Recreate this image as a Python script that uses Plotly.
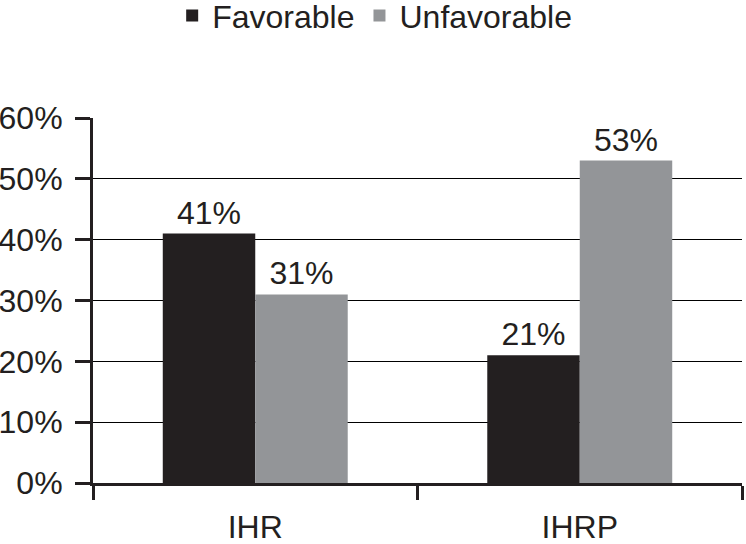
import plotly.graph_objects as go

categories = ["IHR", "IHRP"]
favorable = [0.41, 0.21]
unfavorable = [0.31, 0.53]
series_names = ["Favorable", "Unfavorable"]
y_tick_values = [0, 0.1, 0.2, 0.3, 0.4, 0.5, 0.6]
y_tick_labels = ["0%", "10%", "20%", "30%", "40%", "50%", "60%"]

FONT = "Liberation Sans, Arial, sans-serif"
FS = 32
TXT = "#231F20"
colors = ["#231F20", "#939598"]

fig = go.Figure()
for name, vals, col in zip(series_names, [favorable, unfavorable], colors):
    fig.add_trace(go.Bar(
        x=categories, y=vals, name=name,
        marker=dict(color=col, line=dict(width=0)),
        text=[f"{round(v*100)}%" for v in vals],
        textposition="outside",
        textfont=dict(family=FONT, size=FS, color=TXT),
        cliponaxis=False,
    ))

fig.update_layout(
    width=746, height=544,
    margin=dict(l=93, r=4, t=118, b=61, autoexpand=False),
    paper_bgcolor="white", plot_bgcolor="white",
    barmode="group", bargap=0.43, bargroupgap=0,
    font=dict(family=FONT, size=FS, color=TXT),
    showlegend=True,
    legend=dict(orientation="h", x=0.122, xanchor="left", y=1.28, yanchor="middle",
                yref="paper", font=dict(family=FONT, size=FS, color=TXT),
                bgcolor="rgba(0,0,0,0)", itemsizing="constant"),
)
fig.update_yaxes(
    range=[0, 0.6], tickvals=y_tick_values, ticktext=y_tick_labels,
    showgrid=True, gridcolor="black", gridwidth=1,
    showline=True, linecolor=TXT, linewidth=3,
    ticks="outside", ticklen=15, tickwidth=3, tickcolor=TXT,
    ticklabelstandoff=6, zeroline=False, automargin=False,
    tickfont=dict(family=FONT, size=FS, color=TXT),
)
fig.update_xaxes(
    showline=True, linecolor=TXT, linewidth=3,
    ticks="outside", tickson="boundaries", ticklen=14, tickwidth=3, tickcolor=TXT,
    ticklabelstandoff=14, automargin=False,
    tickfont=dict(family=FONT, size=FS, color=TXT),
)

fig.write_html("out.html", config={"displayModeBar": False},
               post_script="document.body.style.margin='0';")
